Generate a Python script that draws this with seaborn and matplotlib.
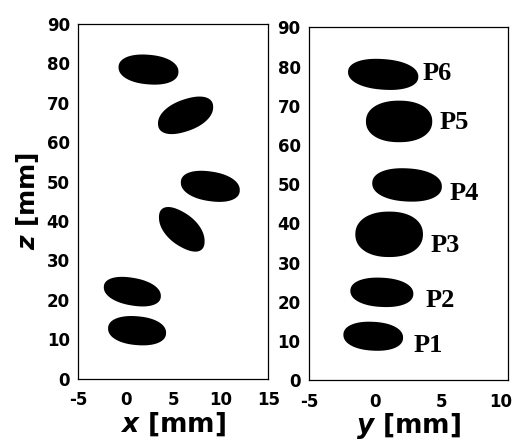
import numpy as np
import pandas as pd
import matplotlib
matplotlib.use("Agg")
import matplotlib.pyplot as plt
import matplotlib.transforms as mtrans
import seaborn as sns

# Positions P1..P6 (mm)
labels = ["P1", "P2", "P3", "P4", "P5", "P6"]
# x-z view
xz_x = [1.2, 0.7, 5.9, 8.9, 6.3, 2.4]
xz_z = [12.2, 22.1, 37.9, 48.8, 66.8, 78.4]
xz_w = [6.1, 6.0, 4.8, 6.2, 5.8, 6.3]
xz_h = [7.4, 7.4, 11.0, 7.8, 9.3, 7.6]
xz_tilt = [-0.15, -0.3, -0.55, -0.25, 0.45, -0.15]
# y-z view
yz_y = [-0.15, 0.5, 1.05, 2.4, 1.8, 0.6]
yz_z = [11.2, 22.4, 37.2, 49.8, 66.0, 78.0]
yz_w = [4.5, 4.75, 5.1, 5.25, 5.0, 5.3]
yz_h = [7.4, 7.5, 11.6, 8.5, 10.6, 7.9]
yz_tilt = [-0.1, -0.1, 0.0, -0.1, 0.0, -0.15]
# label anchor (left edge, vertical centre) in y-z view
lab_y = [2.9, 3.8, 4.2, 5.6, 4.85, 3.6]
lab_z = [8.9, 20.4, 34.4, 47.7, 65.8, 78.3]


def outline(cx, cz, w, h, rho, n=160, p=2.2):
    # slightly rounded blob, sheared by rho
    t = np.linspace(0, 2 * np.pi, n)
    c = np.sign(np.cos(t)) * np.abs(np.cos(t)) ** (2 / p)
    s = np.sign(np.sin(t)) * np.abs(np.sin(t)) ** (2 / p)
    x = cx + w / 2 * c
    z = cz + h / 2 * (rho * c + np.sqrt(1 - rho ** 2) * s)
    return x, z


def build(cx, cz, w, h, tilt):
    rows = []
    for name, a, b, c, d, r in zip(labels, cx, cz, w, h, tilt):
        x, z = outline(a, b, c, d, r)
        rows.append(pd.DataFrame({"p": name, "u": x, "z": z}))
    return pd.concat(rows)


sns.set_style("white")
plt.rcParams["font.family"] = ["DejaVu Sans"]
plt.rcParams["font.weight"] = "bold"
plt.rcParams["axes.labelweight"] = "bold"
plt.rcParams["text.color"] = "black"
plt.rcParams["axes.labelcolor"] = "black"
plt.rcParams["xtick.color"] = "black"
plt.rcParams["ytick.color"] = "black"
plt.rcParams["axes.unicode_minus"] = False
plt.rcParams["mathtext.fontset"] = "custom"
plt.rcParams["mathtext.it"] = "DejaVu Sans:italic:bold"
plt.rcParams["mathtext.rm"] = "DejaVu Sans:bold"

fig = plt.figure(figsize=(5.14, 4.41), dpi=100)
ax1 = fig.add_axes([0.152, 0.141, 0.370, 0.805])
ax2 = fig.add_axes([0.601, 0.138, 0.387, 0.800])

df1 = build(xz_x, xz_z, xz_w, xz_h, xz_tilt)
df2 = build(yz_y, yz_z, yz_w, yz_h, yz_tilt)
for ax, df in [(ax1, df1), (ax2, df2)]:
    for name, g in df.groupby("p"):
        ax.fill(g["u"], g["z"], color="black", lw=0)

for name, a, b in zip(labels, lab_y, lab_z):
    ax2.text(a, b, name, family="Liberation Serif", fontweight="bold",
             fontsize=19, va="center", ha="left")

ax1.set_xlim(-5, 15)
ax1.set_xticks([-5, 0, 5, 10, 15])
ax2.set_xlim(-5, 10)
ax2.set_xticks([-5, 0, 5, 10])
for ax in (ax1, ax2):
    ax.set_ylim(0, 90)
    ax.set_yticks(range(0, 91, 10))
    ax.tick_params(axis="y", length=0, labelsize=12, pad=6)
    ax.tick_params(axis="x", length=0, labelsize=12, pad=9)
    for s in ax.spines.values():
        s.set_color("black")
        s.set_linewidth(0.9)

# last tick of the right panel sits a little inside the edge
last = ax2.get_xticklabels()[-1]
last.set_transform(last.get_transform() +
                   mtrans.ScaledTranslation(-7 / 100, 0, fig.dpi_scale_trans))

ax1.set_xlabel(r"$x$ [mm]", fontsize=19, labelpad=1)
ax1.set_ylabel(r"$z$ [mm]", fontsize=18, labelpad=4)
ax2.set_xlabel(r"$y$ [mm]", fontsize=19, labelpad=0)

fig.savefig("out.png", dpi=100)
